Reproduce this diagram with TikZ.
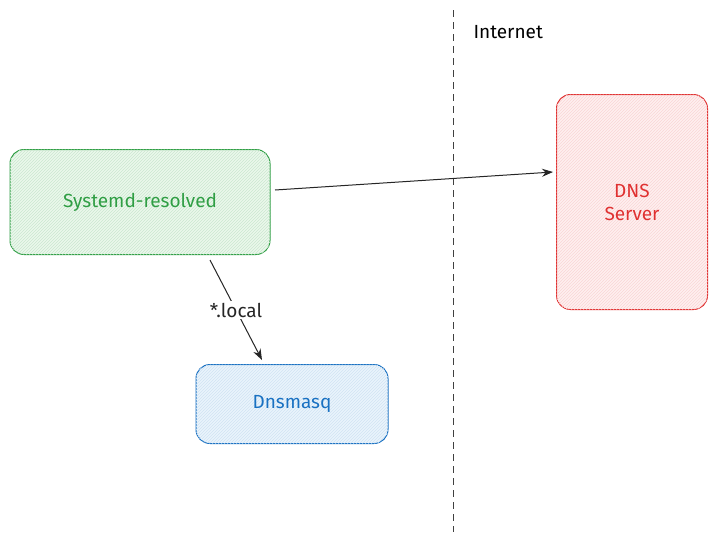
\documentclass[tikz,border=0pt]{standalone}
\usepackage{fontspec}
\setmainfont{Fira Sans}
\usetikzlibrary{patterns,arrows.meta}
\definecolor{gfill}{HTML}{EBF8EC}\definecolor{gline}{HTML}{2F9E44}
\definecolor{rfill}{HTML}{FFF0F0}\definecolor{rline}{HTML}{E03131}
\definecolor{bfill}{HTML}{EAF4FC}\definecolor{bline}{HTML}{1971C2}
\tikzset{box/.style={draw, rounded corners=14pt, line width=1pt, font=\fontsize{19}{23}\selectfont, align=center, inner sep=0pt},
 arr/.style={-{Stealth[length=11pt,width=8pt]}, line width=1pt, black!85}}
\begin{document}
\begin{tikzpicture}[x=1pt,y=-1pt]
\useasboundingbox[fill=white] (0,0) rectangle (720,542);
\draw[dashed, line width=1pt, black!75, dash pattern=on 7pt off 5pt] (453,10) -- (453,532);
\node[font=\fontsize{19}{22}\selectfont, anchor=west] (inet) at (470,32) {Internet};
\node[box, draw=gline, fill=gfill, postaction={pattern=north east lines, pattern color=gline!25}, text=gline, minimum width=260pt, minimum height=105pt] (sr) at (140,202) {Systemd-resolved};
\node[box, draw=rline, fill=rfill, postaction={pattern=north east lines, pattern color=rline!20}, text=rline, minimum width=151pt, minimum height=215pt] (dns) at (632,202) {DNS\\Server};
\node[box, draw=bline, fill=bfill, postaction={pattern=north east lines, pattern color=bline!20}, text=bline, minimum width=192pt, minimum height=79pt] (dm) at (292,404) {Dnsmasq};
\coordinate (a1) at (275,190); \coordinate (a2) at (553,172);
\draw[arr] (a1) -- (a2);
\coordinate (b1) at (210,260); \coordinate (b2) at (262,360);
\draw[arr] (b1) -- node[fill=white, inner sep=2pt, font=\fontsize{19}{22}\selectfont] (lbl) {*.local} (b2);
\end{tikzpicture}
\end{document}
